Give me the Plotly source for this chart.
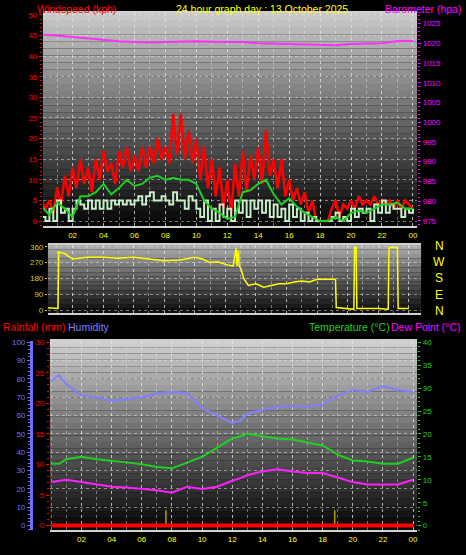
import plotly.graph_objects as go

# ---------------- data ----------------
hour_ticks = [2,4,6,8,10,12,14,16,18,20,22,24]
hour_labels = ["02","04","06","08","10","12","14","16","18","20","22","00"]

gust = [5,3,5,2, 8,4,11,6, 13,8,15,9, 13,7,15,10, 17,12,14,9, 17,13,18,12,
        16,12,18,13, 18,14,20,15, 18,14,26,16, 26,15,22,14, 20,10,18,8, 15,6,13,3,
        10,2,14,6, 17,7,16,10, 18,9,22,11, 15,8,15,6, 10,5,8,4, 7,2,5,0,
        0,0,0,3, 5,1,4,3, 5,3,6,4, 5,4,6,4, 5,4,5,3, 5,3,5,4, 3]
wind_now = [1,0,3,0, 5,2,3,0, 3,5,4,3, 5,3,5,3, 5,3,5,4, 5,4,5,4, 5,6,4,6, 7,5,5,6,
            5,4,7,5, 5,3,6,5, 3,1,5,0, 3,0,4,1, 3,0,5,2, 5,1,5,3, 5,2,5,1, 4,1,3,0,
            4,1,3,0, 2,0,1,0, 0,0,0,1, 2,0,1,0, 3,1,3,2, 3,0,4,2, 5,2,4,3, 3,1,3,2, 3]
wind_avg = [3.5,1.5,4.5,3,1,6,6,7,9,6.5,8,10,8.5,9,10.5,11,10,10.5,10,10,9,5,3,2,0.5,1,
            7,7.5,9,10,6.5,4,5.5,3.5,2,1,0,0,1,0,2,2.5,2,3,4,4,4.5,3,3]
baro = [1022.2,1022,1021.6,1021.2,1020.8,1020.5,1020.3,1020.2,1020.3,1020.4,1020.5,1020.4,
        1020.3,1020.3,1020,1019.9,1019.8,1019.6,1019.5,1019.5,1019.8,1019.9,1020,1020.6,1020.6]

dir_hours = [0.05,1.05,1.1,1.5,2,3,4,5,6,7,8,9,10,10.5,11,11.5,12,12.5,12.7,12.75,12.85,12.9,13.0,13.2,
             13.5,14,14.5,15,15.5,16,16.5,17,17.5,18,19.2,19.25,20,20.4,20.45,20.55,20.6,21,22,
             22.65,22.7,23.25,23.3,24]
dir_vals = [15,10,330,320,290,300,300,295,300,290,280,285,300,290,270,275,260,250,350,250,340,250,
            240,180,140,150,130,140,150,150,160,165,160,175,175,15,10,5,355,355,10,10,10,
            5,355,355,10,10]

th = [0,0.5,1,2,3,4,5,6,7,8,9,10,11,12,12.5,13,14,15,16,17,18,19,20,21,22,23,24]
humidity = [79,82,77,71,70,68,69,70,72,73,72,64,60,56,57,61,63,65,65,65,66,71,74,73,76,74,73]
temp = [13.5,13.5,14.5,15,14.5,14.2,13.8,13.4,12.8,12.5,13.8,15,17,19,19.5,20,19.5,19,18.8,18.2,
        17.5,15.5,14.2,14,13.5,13.5,14.8]
dew = [9.5,9.8,10,9.5,9,8.5,8.3,8,7.7,7.2,8.5,8,8.5,9.8,10.3,11,11.8,12.3,11.8,11.5,11.5,10.5,
       9.5,9,9,9,10]
rain_hours = [0,24]
rain = [0,0]
marker_hours = [7.6,18.8]

q = [i*0.25 for i in range(97)]
hh = [i*0.5 for i in range(49)]
hr = list(range(25))

fig = go.Figure()
fig.add_trace(go.Scatter(x=q, y=gust, mode="lines", line=dict(color="#ff0000", width=2.5),
                         xaxis="x", yaxis="y"))
fig.add_trace(go.Scatter(x=q, y=wind_now, mode="lines", line=dict(color="#c8f0c8", width=2, shape="hv"),
                         xaxis="x", yaxis="y"))
fig.add_trace(go.Scatter(x=hh, y=wind_avg, mode="lines", line=dict(color="#20d020", width=2),
                         xaxis="x", yaxis="y"))
fig.add_trace(go.Scatter(x=hr, y=baro, mode="lines", line=dict(color="#ff30ff", width=2),
                         xaxis="x", yaxis="y2"))
fig.add_trace(go.Scatter(x=dir_hours, y=dir_vals, mode="lines", line=dict(color="#ffff00", width=1.5),
                         xaxis="x2", yaxis="y3"))
fig.add_trace(go.Scatter(x=th, y=humidity, mode="lines", line=dict(color="#8080ff", width=2),
                         xaxis="x3", yaxis="y4"))
fig.add_trace(go.Scatter(x=th, y=temp, mode="lines", line=dict(color="#20d020", width=2),
                         xaxis="x3", yaxis="y6"))
fig.add_trace(go.Scatter(x=th, y=dew, mode="lines", line=dict(color="#ff20ff", width=2),
                         xaxis="x3", yaxis="y6"))
for mh in marker_hours:
    fig.add_trace(go.Scatter(x=[mh, mh], y=[0, 2.5], mode="lines", line=dict(color="#b0a000", width=1.5),
                             xaxis="x3", yaxis="y5"))
fig.add_trace(go.Scatter(x=rain_hours, y=rain, mode="lines", line=dict(color="#ff0000", width=4),
                         xaxis="x3", yaxis="y5"))

W, H = 466, 555
def dx(a, b): return [a/W, b/W]
def dy(top, bot): return [1-bot/H, 1-top/H]

tf = dict(family="Liberation Sans, Arial", size=8)
xcommon = dict(tickvals=hour_ticks, ticktext=hour_labels, tickfont=dict(tf, color="#ffff00"),
               showgrid=True, gridcolor="rgba(230,230,230,0.55)", griddash="dot", gridwidth=1,
               minor=dict(dtick=1, showgrid=True, gridcolor="rgba(230,230,230,0.45)", griddash="dot"),
               zeroline=False, showline=True, linecolor="#d0d0d0", linewidth=2, mirror=True, ticks="")
fig.update_layout(
    width=W, height=H, margin=dict(l=0, r=0, t=0, b=0),
    paper_bgcolor="#000000", plot_bgcolor="rgba(0,0,0,0)", showlegend=False,
    xaxis=dict(xcommon, domain=dx(43, 418), range=[0.08, 24.27], anchor="y"),
    yaxis=dict(domain=dy(10, 225), range=[-1.2, 50.5], tickvals=list(range(0, 51, 5)),
               tickfont=dict(tf, color="#ff0000"), showgrid=True, gridcolor="rgba(230,230,230,0.5)",
               griddash="dot", zeroline=False, ticks="outside", tickcolor="#ff0000", ticklen=3,
               minor=dict(dtick=1, ticks="outside", tickcolor="#ff0000", ticklen=2), anchor="x"),
    yaxis2=dict(overlaying="y", side="right", range=[973.7, 1027.7], tickvals=list(range(975, 1026, 5)),
                tickfont=dict(tf, color="#ff00ff"), showgrid=False, zeroline=False, anchor="x",
                ticks="outside", tickcolor="#ff00ff", ticklen=3,
                minor=dict(dtick=1, ticks="outside", tickcolor="#ff00ff", ticklen=2)),
    xaxis2=dict(xcommon, domain=dx(48, 422), range=[0.39, 24.8], side="top", anchor="y3",
                showticklabels=False),
    yaxis3=dict(domain=dy(244, 313), range=[-17, 371], tickvals=[0, 90, 180, 270, 360],
                tickfont=dict(tf, color="#d0d000"), showgrid=True, gridcolor="rgba(230,230,230,0.5)",
                griddash="dot", zeroline=False, anchor="x2", ticks="outside", tickcolor="#d0d000", ticklen=2),
    xaxis3=dict(xcommon, domain=dx(50, 418), range=[-0.1, 24.27], anchor="y4"),
    yaxis4=dict(domain=dy(341, 532), range=[-2.5, 100.7], tickvals=list(range(0, 101, 10)),
                tickfont=dict(tf, color="#7070ff"), showgrid=True, gridcolor="rgba(230,230,230,0.5)",
                griddash="dot", zeroline=False, anchor="free", position=31/W, showline=True,
                linecolor="#7070ff", linewidth=3, ticks="outside", tickcolor="#7070ff", ticklen=3,
                minor=dict(dtick=2, ticks="outside", tickcolor="#7070ff", ticklen=2)),
    yaxis5=dict(overlaying="y4", range=[-0.75, 30.2], tickvals=[0, 5, 10, 15, 20, 25, 30],
                tickfont=dict(tf, color="#ff0000"), showgrid=False, zeroline=False, anchor="free",
                position=49/W, ticks="outside", tickcolor="#ff0000", ticklen=3,
                minor=dict(dtick=1, ticks="outside", tickcolor="#ff0000", ticklen=2)),
    yaxis6=dict(overlaying="y4", side="right", range=[-1.0, 40.3], tickvals=list(range(0, 41, 5)),
                tickfont=dict(tf, color="#20d020"), showgrid=False, zeroline=False, anchor="x3",
                ticks="outside", tickcolor="#20d020", ticklen=3,
                minor=dict(dtick=1, ticks="outside", tickcolor="#20d020", ticklen=2)),
)

shapes = []
def grad(xr, yr, top, bot, n=30):
    for i in range(n):
        f = i / (n - 1)
        c = [int(top[k] + (bot[k] - top[k]) * f) for k in range(3)]
        shapes.append(dict(type="rect", xref=xr + " domain", yref=yr + " domain",
                           x0=0, x1=1, y0=1 - (i + 1) / n, y1=1 - i / n, layer="below",
                           line=dict(width=0), fillcolor="rgb(%d,%d,%d)" % tuple(c)))
grad("x", "y", (200, 200, 200), (8, 8, 8))
grad("x2", "y3", (170, 170, 170), (15, 15, 15), 15)
grad("x3", "y4", (205, 205, 205), (8, 8, 8))
fig.update_layout(shapes=shapes)

af = dict(family="Liberation Sans, Arial", size=10.5)
ann = [
    dict(x=35/W, y=1-6/H, text="Windspeed (kph)", font=dict(af, color="#ff0000"), xanchor="left"),
    dict(x=263/W, y=1-6/H, text="24 hour graph day : 13 October 2025", font=dict(af, color="#ffff00"), xanchor="center"),
    dict(x=464/W, y=1-6/H, text="Barometer (hpa)", font=dict(af, color="#ff00ff"), xanchor="right"),
    dict(x=1/W, y=1-327/H, text="Rainfall (mm)", font=dict(af, color="#ff0000"), xanchor="left"),
    dict(x=66/W, y=1-327/H, text="Humidity", font=dict(af, color="#8080ff"), xanchor="left"),
    dict(x=393/W, y=1-327/H, text="Temperature (°C)", font=dict(af, color="#20d020"), xanchor="right"),
    dict(x=464/W, y=1-327/H, text="Dew Point (°C)", font=dict(af, color="#ff00ff"), xanchor="right"),
]
for i, t in enumerate(["N", "W", "S", "E", "N"]):
    ann.append(dict(x=440/W, y=1-(245 + i*16.5)/H, text=t, font=dict(af, size=12, color="#ffff00"),
                    xanchor="center"))
for a in ann:
    a.update(xref="paper", yref="paper", showarrow=False, yanchor="middle")
fig.update_layout(annotations=ann)

fig.write_html("out.html", config={"displayModeBar": False})
with open("out.html", encoding="utf-8") as fh:
    page = fh.read()
page = page.replace("<head>", "<head><style>html,body{margin:0;padding:0;overflow:hidden;background:#000}</style>", 1)
with open("out.html", "w", encoding="utf-8") as fh:
    fh.write(page)
